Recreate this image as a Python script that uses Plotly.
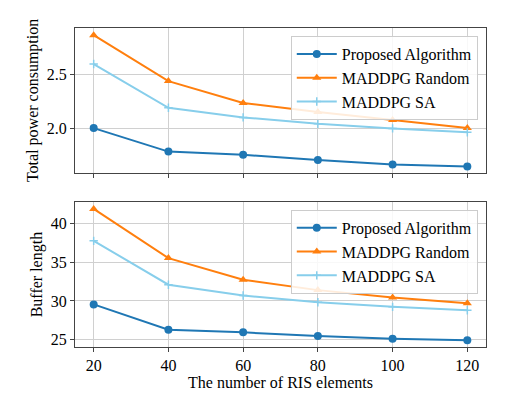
import plotly.graph_objects as go
from plotly.subplots import make_subplots

ris = [20, 40, 60, 80, 100, 120]

power_proposed = [2.00, 1.78, 1.75, 1.70, 1.66, 1.64]
power_random = [2.87, 2.44, 2.235, 2.15, 2.075, 2.00]
power_sa = [2.60, 2.19, 2.10, 2.04, 1.997, 1.96]

buffer_proposed = [29.56, 26.29, 25.95, 25.48, 25.14, 24.92]
buffer_random = [41.88, 35.53, 32.73, 31.40, 30.45, 29.72]
buffer_sa = [37.76, 32.1, 30.7, 29.84, 29.24, 28.81]

names = ["Proposed Algorithm", "MADDPG Random", "MADDPG SA"]
colors = ["#1f77b4", "#ff7f0e", "#87ceeb"]
symbols = ["circle", "triangle-up", "cross-thin"]
sizes = [8, 8, 6]

font = "Liberation Serif"

fig = make_subplots(rows=2, cols=1, vertical_spacing=0.092)

top = [power_proposed, power_random, power_sa]
bottom = [buffer_proposed, buffer_random, buffer_sa]

for i in range(3):
    mk = dict(symbol=symbols[i], size=sizes[i], color=colors[i],
              line=dict(color=colors[i], width=1.5 if i == 2 else 0))
    fig.add_trace(go.Scatter(x=ris, y=top[i], name=names[i], mode="lines+markers",
                             line=dict(color=colors[i], width=2), marker=mk,
                             legend="legend"), row=1, col=1)
    fig.add_trace(go.Scatter(x=ris, y=bottom[i], name=names[i], mode="lines+markers",
                             line=dict(color=colors[i], width=2), marker=mk,
                             legend="legend2"), row=2, col=1)

tfont = dict(family=font, size=16, color="black")

axis_style = dict(showline=True, mirror=True, linecolor="#444", linewidth=1.2,
                  showgrid=True, gridcolor="#d0d0d0", gridwidth=1,
                  ticks="outside", ticklen=4, tickcolor="#444",
                  zeroline=False, tickfont=tfont)

fig.update_xaxes(axis_style, range=[15, 125], tickvals=ris)
fig.update_xaxes(showticklabels=False, row=1, col=1)
fig.update_xaxes(title=dict(text="The number of RIS elements", font=tfont, standoff=0), row=2, col=1)

fig.update_yaxes(axis_style)
fig.update_yaxes(range=[1.581, 2.9375], tickvals=[2.0, 2.5], ticktext=["2.0", "2.5"],
                 title=dict(text="Total power consumption", font=tfont, standoff=4), row=1, col=1)
fig.update_yaxes(range=[24.06, 42.75], tickvals=[25, 30, 35, 40],
                 title=dict(text="Buffer length", font=tfont, standoff=4), row=2, col=1)

leg = dict(xanchor="right", yanchor="top", bgcolor="rgba(255,255,255,0.85)",
           bordercolor="#cccccc", borderwidth=1,
           font=tfont, tracegroupgap=0, itemwidth=40)

fig.update_layout(
    width=531, height=399,
    margin=dict(l=67, r=53, t=20, b=60),
    plot_bgcolor="white", paper_bgcolor="white",
    font=dict(family=font, color="black"),
    legend=dict(leg, x=0.98, y=0.975),
    legend2=dict(leg, x=0.98, y=0.43),
)

fig.write_html("out.html")
